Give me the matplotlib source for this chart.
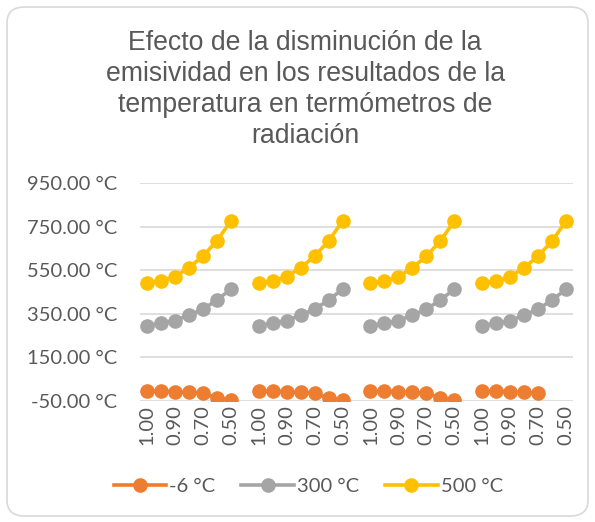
import numpy as np
import matplotlib.pyplot as plt
from matplotlib.patches import FancyBboxPatch

# Emissivity categories for one block (repeated four times on the axis)
emisividad = ['1.00', '0.95', '0.90', '0.80', '0.70', '0.60', '0.50']

# Readings per block (°C)
serie_m6 = [
    [-6, -6, -9, -12, -16, -37, -47],
    [-6, -6, -9, -12, -16, -37, -47],
    [-6, -6, -9, -12, -16, -37, -47],
    [-6, -6, -9, -12, -16],
]
serie_300 = [
    [295, 306, 318, 344, 370, 413, 462],
    [295, 306, 318, 344, 370, 413, 462],
    [295, 306, 318, 344, 370, 413, 462],
    [295, 306, 318, 344, 370, 413, 462],
]
serie_500 = [
    [490, 500, 520, 561, 615, 684, 776],
    [490, 500, 520, 561, 615, 684, 776],
    [490, 500, 520, 561, 615, 684, 776],
    [490, 500, 520, 561, 615, 684, 776],
]
nombres = ['-6 °C', '300 °C', '500 °C']
colores = ['#ED7D31', '#A5A5A5', '#FFC000']

n_bloques = 4
paso = len(emisividad) + 1   # one empty category between blocks
n_cat = n_bloques * paso - 1

plt.rcParams['font.family'] = ['Lato', 'DejaVu Sans']
gris = '#595959'

fig = plt.figure(figsize=(5.95, 5.22), dpi=100)
fig.patches.append(FancyBboxPatch((7 / 595, 6 / 522), 581 / 595, 509 / 522,
                                  boxstyle='round,pad=0,rounding_size=0.03',
                                  transform=fig.transFigure, fc='white',
                                  ec='#D9D9D9', lw=1.2, zorder=-1))

ax = fig.add_axes([140 / 595, 1 - 400.7 / 522, 433 / 595, 217.5 / 522])
ax.set_facecolor('none')

for serie, nombre, color in zip([serie_m6, serie_300, serie_500], nombres, colores):
    y = np.full(n_cat, np.nan)
    for b, vals in enumerate(serie):
        y[b * paso:b * paso + len(vals)] = vals
    ax.plot(np.arange(n_cat), y, '-o', color=color, lw=2.6, ms=9.5,
            label=nombre, zorder=3)

ax.set_xlim(-0.5, n_cat - 0.5)
ax.set_ylim(-50, 950)
ax.set_yticks(np.arange(-50, 951, 200))
ax.set_yticklabels([f'{v:.2f} °C' for v in np.arange(-50, 951, 200)])

etiquetas = []
pos = []
for b in range(n_bloques):
    for i, e in enumerate(emisividad):
        if i % 2 == 0:
            pos.append(b * paso + i)
            etiquetas.append(e)
ax.set_xticks(pos)
ax.set_xticklabels(etiquetas, rotation=90)

ax.tick_params(axis='both', length=0, colors=gris, labelsize=14.5)
ax.tick_params(axis='y', pad=16.5)
ax.tick_params(axis='x', pad=3)
ax.grid(axis='y', color='#D9D9D9', lw=1.2)
ax.set_axisbelow(True)
for s in ax.spines.values():
    s.set_visible(False)

fig.text(0.513, 1 - 89.5 / 522,
         'Efecto de la disminución de la\nemisividad en los resultados de la\n'
         'temperatura en termómetros de\nradiación',
         ha='center', va='center', fontsize=19.2, color=gris,
         family=['Liberation Sans', 'DejaVu Sans'], linespacing=1.24)

fig.legend(loc='center', bbox_to_anchor=(0.518, 1 - 486.5 / 522), ncol=3,
           frameon=False, fontsize=14.5, labelcolor=gris, handlelength=2.6,
           handletextpad=0.15, columnspacing=1.3)

fig.savefig('out.png', dpi=100)
